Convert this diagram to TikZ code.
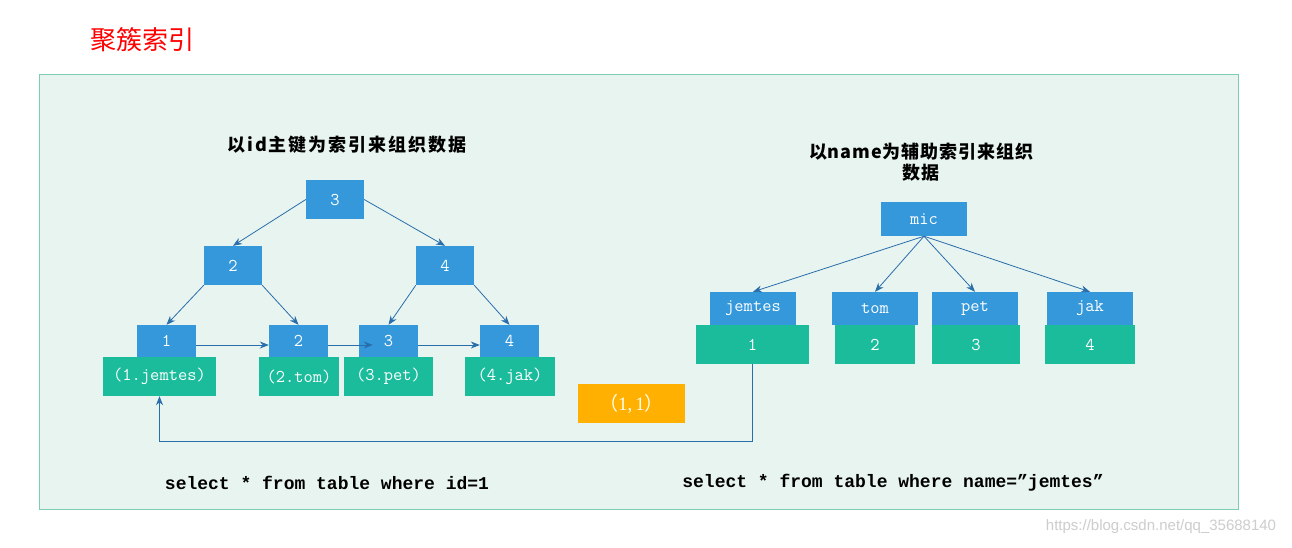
\documentclass[tikz,border=0pt]{standalone}
\usepackage{fontspec}
\setmainfont{Liberation Serif}
\setmonofont{Liberation Mono}
\setsansfont{Liberation Sans}
\newfontfamily\cjk{Noto Sans CJK SC}
\newfontfamily\lmtt{Latin Modern Mono}
\usetikzlibrary{arrows.meta}
\definecolor{bgfill}{RGB}{232,244,240}
\definecolor{bgline}{RGB}{125,205,180}
\definecolor{nblue}{RGB}{52,152,219}
\definecolor{ngreen}{RGB}{26,188,156}
\definecolor{norange}{RGB}{255,176,0}
\definecolor{arrc}{RGB}{40,110,170}
\definecolor{wm}{RGB}{205,205,205}
\begin{document}
\begin{tikzpicture}[x=1pt,y=-1pt,
  bx/.style={rectangle, inner sep=0pt, text=white, font=\fontsize{18}{18}\selectfont\lmtt},
  bnode/.style={bx, fill=nblue},
  gnode/.style={bx, fill=ngreen},
  onode/.style={bx, fill=norange, text=white!92!yellow, font=\fontsize{19}{19}\selectfont\rmfamily},
  arr/.style={draw=arrc, line width=0.8pt, -{Stealth[length=9pt,width=7pt]}},
  heading/.style={font=\fontsize{18}{21}\selectfont\cjk\bfseries\addfontfeature{LetterSpace=#1}, align=center, text=black},
  sql/.style={font=\fontsize{18}{18}\selectfont\ttfamily\bfseries, text=black}]
\useasboundingbox (0,0) rectangle (1292,547);
\fill[white] (0,0) rectangle (1292,547);
\node[font=\fontsize{26}{26}\selectfont\cjk, text=red] (title) at (142,40) {聚簇索引};
\draw[fill=bgfill, draw=bgline, line width=0.8pt] (39,74) rectangle (1238,509);
\node[heading=11] (hl) at (347,145) {以id主键为索引来组织数据};
\node[heading=5] (hr) at (921,162) {以name为辅助索引来组织\\数据};
% left tree
\node[bnode, minimum width=58pt, minimum height=39pt] (r) at (335,199.5) {3};
\node[bnode, minimum width=58pt, minimum height=39pt] (n2) at (233,265.5) {2};
\node[bnode, minimum width=58pt, minimum height=39pt] (n4) at (445,265.5) {4};
\node[bnode, minimum width=59pt, minimum height=32pt] (l1) at (166.5,341) {1};
\node[bnode, minimum width=59pt, minimum height=32pt] (l2) at (298.5,341) {2};
\node[bnode, minimum width=59pt, minimum height=32pt] (l3) at (388.5,341) {3};
\node[bnode, minimum width=59pt, minimum height=32pt] (l4) at (509.5,341) {4};
\node[gnode, minimum width=113pt, minimum height=39pt] (gl1) at (159.5,376.5) {(1.jemtes)};
\node[gnode, minimum width=80pt, minimum height=39pt] (gl2) at (299,376.5) {(2.tom)};
\node[gnode, minimum width=89pt, minimum height=39pt] (gl3) at (388.5,376.5) {(3.pet)};
\node[gnode, minimum width=90pt, minimum height=39pt] (gl4) at (510,376.5) {(4.jak)};
\draw[arr] (r.west) -- (n2.north);
\draw[arr] (r.east) -- (n4.north);
\draw[arr] (n2.south west) -- (l1.north);
\draw[arr] (n2.south east) -- (l2.north);
\draw[arr] (n4.south west) -- (l3.north);
\draw[arr] (n4.south east) -- (l4.north);
\draw[arr] ([yshift=-4pt]l1.east) -- ([yshift=-4pt]l2.west);
\draw[arr] ([yshift=-4pt]l2.east) -- ([xshift=14pt,yshift=-4pt]l3.west);
\draw[arr] ([yshift=-4pt]l3.east) -- ([yshift=-4pt]l4.west);
% right tree
\node[bnode, minimum width=86pt, minimum height=34pt] (mic) at (924,219) {mic};
\node[bnode, minimum width=86pt, minimum height=33pt] (bj) at (753,308.5) {jemtes};
\node[bnode, minimum width=86pt, minimum height=33pt] (bt) at (875,308.5) {tom};
\node[bnode, minimum width=86pt, minimum height=33pt] (bp) at (975,308.5) {pet};
\node[bnode, minimum width=86pt, minimum height=33pt] (bk) at (1090,308.5) {jak};
\node[gnode, minimum width=113pt, minimum height=39pt] (g1) at (752.5,344.5) {1};
\node[gnode, minimum width=80pt, minimum height=39pt] (g2) at (875,344.5) {2};
\node[gnode, minimum width=88pt, minimum height=39pt] (g3) at (976,344.5) {3};
\node[gnode, minimum width=90pt, minimum height=39pt] (g4) at (1090,344.5) {4};
\draw[arr] (mic.south) -- (bj.north);
\draw[arr] (mic.south) -- (bt.north);
\draw[arr] (mic.south) -- (bp.north);
\draw[arr] (mic.south) -- (bk.north);
\node[onode, minimum width=107pt, minimum height=39pt] (o) at (631.5,403.5) {{\cjk （}1,\,1{\cjk ）}};
\draw[arr] (g1.south) -- ++(0,77) -| (gl1.south);
\node[sql] (q1) at (327,483) {select * from table where id=1};
\node[sql] (q2) at (893,483) {select * from table where name=”jemtes”};
\node[font=\fontsize{15}{15}\selectfont\sffamily, text=wm] (w) at (1161,527) {https://blog.csdn.net/qq\_35688140};
\end{tikzpicture}
\end{document}
